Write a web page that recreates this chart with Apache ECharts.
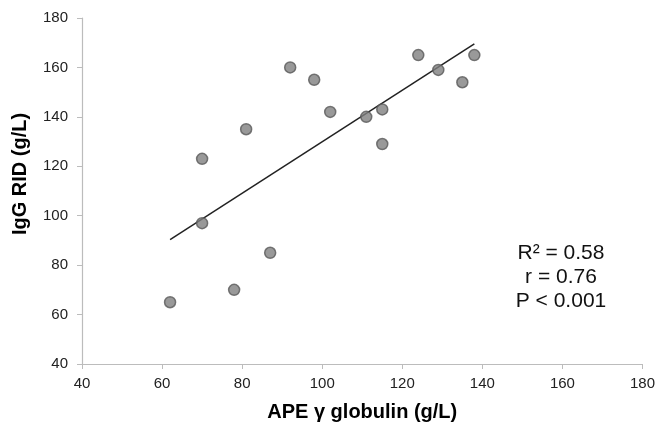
<!DOCTYPE html>
<html><head><meta charset="utf-8">
<script src="https://cdn.jsdelivr.net/npm/echarts@6/dist/echarts.min.js"></script>
<style>html,body{margin:0;padding:0;background:#fff}#c{width:658px;height:428px}</style>
</head><body><div id="c"></div>
<script>
const apeGamma = [62, 70, 70, 81, 78, 87, 92, 98, 102, 111, 115, 115, 124, 129, 135, 138];
const iggRid   = [65, 97, 123, 135, 70, 85, 160, 155, 142, 140, 143, 129, 165, 159, 154, 165];
const trendX = [62, 138];
const trendY = [90.3, 169.5];
const statsText = ['R² = 0.58', 'r = 0.76', 'P < 0.001'];
const xTitle = 'APE γ globulin (g/L)';
const yTitle = 'IgG RID (g/L)';

const pts = apeGamma.map((x, i) => [x, iggRid[i]]);
const line = trendX.map((x, i) => [x, trendY[i]]);
const chart = echarts.init(document.getElementById('c'), null, {renderer: 'canvas'});
const font = 'Liberation Sans, Arial, sans-serif';
chart.setOption({
  animation: false,
  grid: {left: 82, right: 15, top: 18, bottom: 64},
  xAxis: {
    type: 'value', min: 40, max: 180, interval: 20,
    name: xTitle, nameLocation: 'middle', nameGap: 38,
    nameTextStyle: {fontFamily: font, fontWeight: 'bold', fontSize: 20, color: '#000'},
    axisLine: {lineStyle: {color: '#bcbcbc', width: 1.2}},
    axisTick: {show: true, length: 5, lineStyle: {color: '#bcbcbc'}},
    axisLabel: {fontFamily: font, fontSize: 15, color: '#222', margin: 12},
    splitLine: {show: false}
  },
  yAxis: {
    type: 'value', min: 40, max: 180, interval: 20,
    axisLine: {show: true, lineStyle: {color: '#bcbcbc', width: 1.2}},
    axisTick: {show: true, length: 5, lineStyle: {color: '#bcbcbc'}},
    axisLabel: {fontFamily: font, fontSize: 15, color: '#222', margin: 14},
    splitLine: {show: false}
  },
  series: [
    {type: 'line', data: line, symbol: 'none', lineStyle: {color: '#222', width: 1.5}, z: 2},
    {type: 'scatter', data: pts, symbolSize: 11,
     itemStyle: {color: '#7f7f7f', borderColor: '#595959', borderWidth: 1.5}, z: 3}
  ],
  graphic: [
    {type: 'text', x: 20, y: 174, rotation: Math.PI / 2,
     style: {text: yTitle, fontFamily: font, fontWeight: 'bold', fontSize: 20, fill: '#000', textAlign: 'center', textVerticalAlign: 'middle'}}
  ].concat(statsText.map((t, i) => ({
    type: 'text', x: 561, y: 253 + i * 24,
    style: {text: t, fontFamily: font, fontSize: 21, fill: '#111', textAlign: 'center', textVerticalAlign: 'middle'}
  })))
});
</script></body></html>
